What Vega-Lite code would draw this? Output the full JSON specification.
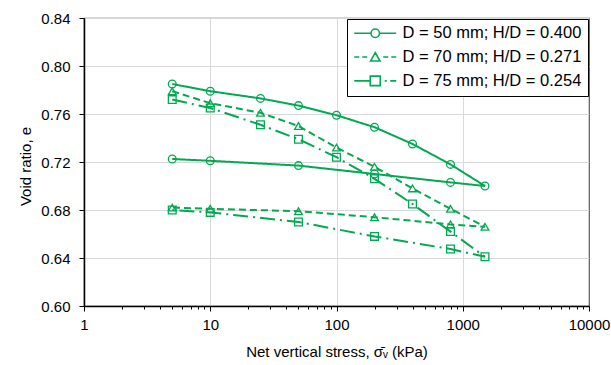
{
  "$schema": "https://vega.github.io/schema/vega-lite/v6.json",
  "width": 505,
  "height": 288,
  "autosize": {"type": "none"},
  "padding": {"left": 84, "top": 18, "right": 22, "bottom": 59},
  "background": "white",
  "config": {
    "font": "Liberation Sans",
    "view": {"stroke": "#595959", "strokeWidth": 1.2},
    "axis": {
      "labelFont": "Liberation Sans", "titleFont": "Liberation Sans",
      "labelFontSize": 15, "titleFontSize": 15,
      "labelColor": "black", "titleColor": "black", "titleFontWeight": "normal",
      "domainColor": "black", "domainWidth": 1.5,
      "tickColor": "black", "tickWidth": 1,
      "gridColor": "#d9d9d9", "gridWidth": 1
    }
  },
  "data": {"values": [
    {"series": "D = 50 mm; H/D = 0.400", "order": 1, "stress": 5, "e": 0.785},
    {"series": "D = 50 mm; H/D = 0.400", "order": 2, "stress": 10, "e": 0.779},
    {"series": "D = 50 mm; H/D = 0.400", "order": 3, "stress": 25, "e": 0.773},
    {"series": "D = 50 mm; H/D = 0.400", "order": 4, "stress": 50, "e": 0.767},
    {"series": "D = 50 mm; H/D = 0.400", "order": 5, "stress": 100, "e": 0.759},
    {"series": "D = 50 mm; H/D = 0.400", "order": 6, "stress": 200, "e": 0.749},
    {"series": "D = 50 mm; H/D = 0.400", "order": 7, "stress": 400, "e": 0.735},
    {"series": "D = 50 mm; H/D = 0.400", "order": 8, "stress": 800, "e": 0.718},
    {"series": "D = 50 mm; H/D = 0.400", "order": 9, "stress": 1500, "e": 0.700},
    {"series": "D = 50 mm; H/D = 0.400", "order": 10, "stress": 800, "e": 0.703},
    {"series": "D = 50 mm; H/D = 0.400", "order": 11, "stress": 200, "e": 0.710},
    {"series": "D = 50 mm; H/D = 0.400", "order": 12, "stress": 50, "e": 0.717},
    {"series": "D = 50 mm; H/D = 0.400", "order": 13, "stress": 10, "e": 0.721},
    {"series": "D = 50 mm; H/D = 0.400", "order": 14, "stress": 5, "e": 0.7225},
    {"series": "D = 70 mm; H/D = 0.271", "order": 1, "stress": 5, "e": 0.779},
    {"series": "D = 70 mm; H/D = 0.271", "order": 2, "stress": 10, "e": 0.769},
    {"series": "D = 70 mm; H/D = 0.271", "order": 3, "stress": 25, "e": 0.761},
    {"series": "D = 70 mm; H/D = 0.271", "order": 4, "stress": 50, "e": 0.750},
    {"series": "D = 70 mm; H/D = 0.271", "order": 5, "stress": 100, "e": 0.732},
    {"series": "D = 70 mm; H/D = 0.271", "order": 6, "stress": 200, "e": 0.716},
    {"series": "D = 70 mm; H/D = 0.271", "order": 7, "stress": 400, "e": 0.698},
    {"series": "D = 70 mm; H/D = 0.271", "order": 8, "stress": 800, "e": 0.681},
    {"series": "D = 70 mm; H/D = 0.271", "order": 9, "stress": 1500, "e": 0.666},
    {"series": "D = 70 mm; H/D = 0.271", "order": 10, "stress": 800, "e": 0.668},
    {"series": "D = 70 mm; H/D = 0.271", "order": 11, "stress": 200, "e": 0.674},
    {"series": "D = 70 mm; H/D = 0.271", "order": 12, "stress": 50, "e": 0.679},
    {"series": "D = 70 mm; H/D = 0.271", "order": 13, "stress": 10, "e": 0.681},
    {"series": "D = 70 mm; H/D = 0.271", "order": 14, "stress": 5, "e": 0.682},
    {"series": "D = 75 mm; H/D = 0.254", "order": 1, "stress": 5, "e": 0.772},
    {"series": "D = 75 mm; H/D = 0.254", "order": 2, "stress": 10, "e": 0.765},
    {"series": "D = 75 mm; H/D = 0.254", "order": 3, "stress": 25, "e": 0.751},
    {"series": "D = 75 mm; H/D = 0.254", "order": 4, "stress": 50, "e": 0.739},
    {"series": "D = 75 mm; H/D = 0.254", "order": 5, "stress": 100, "e": 0.724},
    {"series": "D = 75 mm; H/D = 0.254", "order": 6, "stress": 200, "e": 0.706},
    {"series": "D = 75 mm; H/D = 0.254", "order": 7, "stress": 400, "e": 0.685},
    {"series": "D = 75 mm; H/D = 0.254", "order": 8, "stress": 800, "e": 0.662},
    {"series": "D = 75 mm; H/D = 0.254", "order": 9, "stress": 1500, "e": 0.641},
    {"series": "D = 75 mm; H/D = 0.254", "order": 10, "stress": 800, "e": 0.6475},
    {"series": "D = 75 mm; H/D = 0.254", "order": 11, "stress": 200, "e": 0.658},
    {"series": "D = 75 mm; H/D = 0.254", "order": 12, "stress": 50, "e": 0.670},
    {"series": "D = 75 mm; H/D = 0.254", "order": 13, "stress": 10, "e": 0.678},
    {"series": "D = 75 mm; H/D = 0.254", "order": 14, "stress": 5, "e": 0.680}
  ]},
  "encoding": {
    "x": {
      "field": "stress", "type": "quantitative",
      "scale": {"type": "log", "domain": [1, 10000], "nice": false},
      "axis": {
        "values": [1,2,3,4,5,6,7,8,9,10,20,30,40,50,60,70,80,90,100,200,300,400,500,600,700,800,900,1000,2000,3000,4000,5000,6000,7000,8000,9000,10000],
        "format": "d",
        "labelExpr": "(datum.value == 1 || datum.value == 10 || datum.value == 100 || datum.value == 1000 || datum.value == 10000) ? datum.label : ''",
        "labelOverlap": false, "labelFlush": false, "labelBound": false,
        "grid": true,
        "gridOpacity": {"condition": {"test": "datum.value == 10 || datum.value == 100 || datum.value == 1000", "value": 1}, "value": 0},
        "tickSize": {"condition": {"test": "datum.value == 1 || datum.value == 10 || datum.value == 100 || datum.value == 1000 || datum.value == 10000", "value": 5}, "value": 3},
        "labelPadding": 6,
        "title": "Net vertical stress, σ̄ᵥ (kPa)",
        "titleY": 45, "titleBaseline": "middle"
      }
    },
    "y": {
      "field": "e", "type": "quantitative",
      "scale": {"domain": [0.6, 0.84], "nice": false, "zero": false},
      "axis": {
        "values": [0.6, 0.64, 0.68, 0.72, 0.76, 0.8, 0.84],
        "format": ".2f",
        "tickSize": 5, "labelPadding": 9,
        "grid": true,
        "title": "Void ratio, e",
        "titleX": -59, "titleY": 148, "titleBaseline": "middle", "titleAngle": -90
      }
    }
  },
  "layer": [
    {
      "mark": {"type": "line", "strokeWidth": 2, "color": "#00AA50", "clip": true},
      "encoding": {
        "strokeDash": {
          "field": "series", "type": "nominal",
          "scale": {"domain": ["D = 75 mm; H/D = 0.254", "D = 70 mm; H/D = 0.271", "D = 50 mm; H/D = 0.400"], "range": [[15, 5, 2, 5], [7, 4], [1, 0]]},
          "legend": null
        },
        "order": {"field": "order", "type": "quantitative"}
      }
    },
    {
      "mark": {"type": "point", "filled": false, "size": 60, "strokeWidth": 1.3, "color": "#00AA50", "opacity": 1},
      "encoding": {
        "shape": {
          "field": "series", "type": "nominal",
          "scale": {"domain": ["D = 75 mm; H/D = 0.254", "D = 70 mm; H/D = 0.271", "D = 50 mm; H/D = 0.400"], "range": ["square", "triangle-up", "circle"]},
          "legend": null
        }
      }
    },
    {
      "mark": {"type": "point", "filled": false, "size": 100, "strokeWidth": 1.6, "color": "#00AA50", "opacity": 0},
      "encoding": {
        "shape": {
          "field": "series", "type": "nominal",
          "scale": {
            "domain": ["D = 50 mm; H/D = 0.400", "D = 70 mm; H/D = 0.271", "D = 75 mm; H/D = 0.254"],
            "range": [
              "M-1.4,0H1.95M3.65,0H7M1.95,0A0.85,0.85,0,1,1,3.65,0A0.85,0.85,0,1,1,1.95,0Z",
              "M-1.4,0H-0.4M0.2,0H1.2M4.4,0H5.4M6,0H7M1.85,0.8L2.8,-0.9L3.75,0.8Z",
              "M-1.4,0H1.8M4.7,0H5.1M5.8,0H7M1.8,-0.95H3.8V0.95H1.8Z"
            ]
          },
          "legend": {
            "orient": "none", "legendX": 263, "legendY": 1, "title": null,
            "strokeColor": "black", "fillColor": "white", "padding": 6,
            "symbolSize": 100, "symbolStrokeWidth": 1.6, "symbolStrokeColor": "#00AA50", "symbolOpacity": 1,
            "labelFont": "Liberation Sans", "labelFontSize": 16.5, "labelColor": "black",
            "labelOffset": 33, "rowPadding": 6.8, "labelLimit": 400,
            "encode": {
              "legend": {"update": {"strokeWidth": {"value": 1.3}}}
            }
          }
        }
      }
    }
  ],
  "resolve": {"scale": {"shape": "independent"}}
}
